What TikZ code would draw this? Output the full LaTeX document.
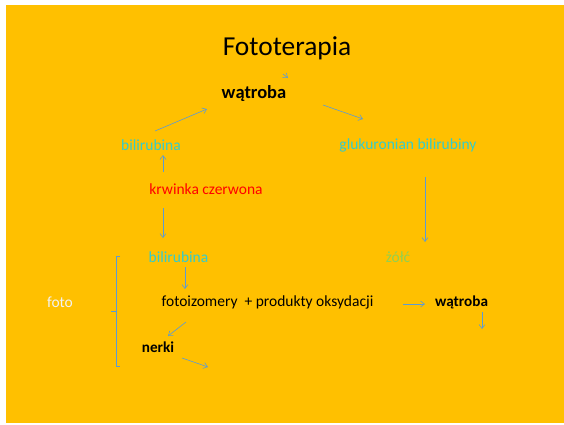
\documentclass[tikz,border=0pt]{standalone}
\usepackage{fontspec}
\setmainfont{Carlito}
\usepackage{xcolor}
\usepackage{tikz}
\usetikzlibrary{arrows.meta}

\definecolor{slide}{HTML}{FFC000}
\definecolor{turq}{HTML}{33CCCC}
\definecolor{lgreen}{HTML}{92D050}
\definecolor{arrblue}{HTML}{5B9BD5}

\begin{document}
\begin{tikzpicture}[x=1pt,y=-1pt,
    lbl/.style={inner sep=0pt, font=\fontsize{15.5}{18}\selectfont},
    flow/.style={draw=arrblue, line width=0.6pt, -{Straight Barb[length=4pt,width=6pt]}}]
  \useasboundingbox (0,0) rectangle (564,424);
  \fill[white] (0,0) rectangle (564,424);
  \fill[slide] (6,5) rectangle (564,423);

  % titles and text rows
  \node[inner sep=0pt, font=\fontsize{27.4}{32}\selectfont] (title) at (287,48) {Fototerapia};
  \node[lbl, font=\fontsize{18.5}{22}\selectfont\bfseries] (liver) at (254,94) {wątroba};
  \node[lbl, text=turq] (bili) at (151,145) {bilirubina};
  \node[lbl, text=turq] (glucur) at (408,145) {glukuronian bilirubiny};
  \node[lbl, text=red] (rbc) at (206,189) {krwinka czerwona};
  \node[lbl, text=turq] (bili2) at (178.5,257) {bilirubina};
  \node[lbl, text=lgreen] (bile) at (398,257) {żółć};
  \node[lbl, text=white!95!black] (foto) at (60,302) {foto};
  \node[lbl] (photo) at (267.5,302) {fotoizomery\ \ + produkty oksydacji};
  \node[lbl, font=\fontsize{15.2}{18}\selectfont\bfseries] (liver2) at (461.5,302) {wątroba};
  \node[lbl, font=\fontsize{15.2}{18}\selectfont\bfseries] (kidney) at (158,347) {nerki};

  % arrow ends
  \coordinate (t1) at (283,74);   \coordinate (t2) at (288,78);
  \coordinate (a1) at (155,131);  \coordinate (a2) at (207,109);
  \coordinate (b1) at (323,105);  \coordinate (b2) at (363,119);
  \coordinate (c1) at (163,172);  \coordinate (c2) at (163,155);
  \coordinate (d1) at (163,208);  \coordinate (d2) at (163,238);
  \coordinate (e1) at (425,177);  \coordinate (e2) at (425,242);
  \coordinate (f1) at (185,267);  \coordinate (f2) at (185,289);
  \coordinate (g1) at (403,304);  \coordinate (g2) at (425,304);
  \coordinate (h1) at (482,312);  \coordinate (h2) at (482,329);
  \coordinate (k1) at (186,322);  \coordinate (k2) at (168,336);
  \coordinate (m1) at (182,358);  \coordinate (m2) at (208,367);

  \draw[flow] (t1) -- (t2);
  \draw[flow] (a1) -- (a2);
  \draw[flow] (b1) -- (b2);
  \draw[flow] (c1) -- (c2);
  \draw[flow] (d1) -- (d2);
  \draw[flow] (e1) -- (e2);
  \draw[flow] (f1) -- (f2);
  \draw[flow] (g1) -- (g2);
  \draw[flow] (h1) -- (h2);
  \draw[flow] (k1) -- (k2);
  \draw[flow] (m1) -- (m2);

  % bracket
  \draw[arrblue, line width=0.8pt] (120,256) -- (116,256) -- (116,366) -- (120,366);
  \draw[arrblue, line width=0.8pt] (116,311) -- (111,311);
\end{tikzpicture}
\end{document}
